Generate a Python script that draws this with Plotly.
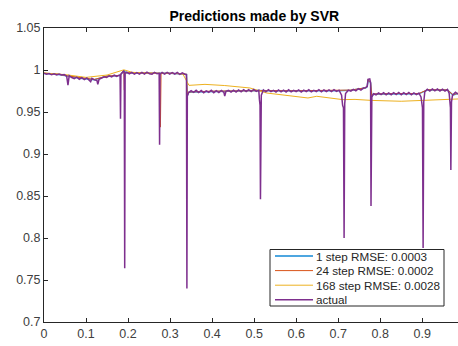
import plotly.graph_objects as go

# ---------------- data ----------------
x_actual = [
    0.000, 0.006, 0.012, 0.018, 0.024, 0.030, 0.036, 0.042, 0.048, 0.054, 0.057, 0.060,
    0.066, 0.072, 0.078, 0.084, 0.090, 0.096, 0.102, 0.108, 0.111, 0.114, 0.120, 0.126,
    0.128, 0.131, 0.137, 0.143, 0.149, 0.155, 0.161, 0.167, 0.173, 0.179, 0.181, 0.182,
    0.183, 0.187, 0.190, 0.191, 0.192, 0.193, 0.197, 0.203, 0.209, 0.215, 0.221, 0.227,
    0.233, 0.239, 0.245, 0.251, 0.257, 0.263, 0.269, 0.274, 0.275, 0.276, 0.281, 0.287,
    0.293, 0.299, 0.305, 0.311, 0.317, 0.323, 0.329, 0.335, 0.339, 0.340, 0.341, 0.344,
    0.350, 0.356, 0.362, 0.368, 0.374, 0.380, 0.386, 0.392, 0.398, 0.404, 0.410, 0.416,
    0.422, 0.428, 0.430, 0.433, 0.439, 0.445, 0.451, 0.457, 0.463, 0.469, 0.475, 0.481,
    0.487, 0.493, 0.499, 0.505, 0.511, 0.5125, 0.514, 0.515, 0.5158, 0.517, 0.522, 0.528,
    0.534, 0.540, 0.546, 0.552, 0.558, 0.564, 0.570, 0.576, 0.582, 0.588, 0.594, 0.600,
    0.606, 0.612, 0.618, 0.624, 0.630, 0.636, 0.642, 0.648, 0.654, 0.660, 0.666, 0.672,
    0.678, 0.684, 0.690, 0.696, 0.702, 0.708, 0.7105, 0.7125, 0.714, 0.7155, 0.7175, 0.724,
    0.730, 0.736, 0.742, 0.748, 0.754, 0.760, 0.765, 0.769, 0.771, 0.775, 0.777, 0.778,
    0.780, 0.784, 0.790, 0.796, 0.802, 0.808, 0.814, 0.820, 0.826, 0.832, 0.838, 0.844,
    0.850, 0.856, 0.862, 0.868, 0.874, 0.880, 0.886, 0.892, 0.897, 0.899, 0.9005, 0.902,
    0.9035, 0.906, 0.912, 0.918, 0.924, 0.930, 0.936, 0.942, 0.948, 0.954, 0.960, 0.964,
    0.9655, 0.967, 0.968, 0.9695, 0.972, 0.979, 0.985,
]
y_actual = [
    0.9962, 0.9950, 0.9958, 0.9945, 0.9955, 0.9942, 0.9952, 0.9940, 0.9945, 0.9925, 0.9820, 0.9932,
    0.9910, 0.9898, 0.9915, 0.9890, 0.9908, 0.9885, 0.9905, 0.9880, 0.9860, 0.9900, 0.9882, 0.9875,
    0.9830, 0.9890, 0.9900, 0.9918, 0.9910, 0.9930, 0.9918, 0.9938, 0.9925, 0.9940, 0.9930, 0.9420,
    0.9950, 0.9978, 0.9992, 0.9960, 0.7640, 0.9960, 0.9975, 0.9955, 0.9972, 0.9952, 0.9970, 0.9950,
    0.9972, 0.9952, 0.9975, 0.9955, 0.9950, 0.9972, 0.9955, 0.9960, 0.9110, 0.9950, 0.9970, 0.9952,
    0.9972, 0.9950, 0.9968, 0.9952, 0.9970, 0.9948, 0.9965, 0.9950, 0.9945, 0.7400, 0.9690, 0.9730,
    0.9755, 0.9735, 0.9758, 0.9732, 0.9755, 0.9730, 0.9752, 0.9735, 0.9758, 0.9730, 0.9754, 0.9732,
    0.9756, 0.9734, 0.9690, 0.9745, 0.9758, 0.9736, 0.9760, 0.9738, 0.9762, 0.9740, 0.9765, 0.9742,
    0.9766, 0.9744, 0.9768, 0.9746, 0.9760, 0.9650, 0.9580, 0.8460, 0.9600, 0.9700, 0.9762, 0.9740,
    0.9765, 0.9742, 0.9758, 0.9738, 0.9762, 0.9740, 0.9760, 0.9738, 0.9764, 0.9740, 0.9758, 0.9742,
    0.9762, 0.9738, 0.9760, 0.9742, 0.9764, 0.9740, 0.9758, 0.9742, 0.9765, 0.9740, 0.9762, 0.9744,
    0.9764, 0.9742, 0.9765, 0.9745, 0.9760, 0.9700, 0.9580, 0.9550, 0.8000, 0.9600, 0.9720, 0.9760,
    0.9748, 0.9770, 0.9752, 0.9778, 0.9760, 0.9785, 0.9790, 0.9805, 0.9890, 0.9895, 0.9850, 0.8380,
    0.9680, 0.9718, 0.9705, 0.9728, 0.9708, 0.9730, 0.9705, 0.9728, 0.9706, 0.9730, 0.9708, 0.9732,
    0.9706, 0.9730, 0.9708, 0.9732, 0.9705, 0.9728, 0.9706, 0.9725, 0.9680, 0.9580, 0.9550, 0.7880,
    0.9620, 0.9740, 0.9772, 0.9750, 0.9775, 0.9752, 0.9774, 0.9750, 0.9772, 0.9748, 0.9770, 0.9720,
    0.9600, 0.9550, 0.8810, 0.9620, 0.9700, 0.9735, 0.9712,
]

x_1step = [
    0.000, 0.030, 0.060, 0.090, 0.120, 0.150, 0.180, 0.187, 0.190, 0.197, 0.250, 0.300,
    0.339, 0.341, 0.344, 0.400, 0.460, 0.505, 0.530, 0.600, 0.700, 0.730, 0.765, 0.769,
    0.771, 0.777, 0.780, 0.784, 0.840, 0.892, 0.912, 0.960, 0.973, 0.985,
]
y_1step = [
    0.9958, 0.9948, 0.9925, 0.9900, 0.9885, 0.9925, 0.9933, 0.9973, 0.9988, 0.9965, 0.9962, 0.9960,
    0.9948, 0.9695, 0.9735, 0.9745, 0.9750, 0.9755, 0.9752, 0.9750, 0.9752, 0.9758, 0.9785, 0.9800,
    0.9883, 0.9848, 0.9682, 0.9712, 0.9718, 0.9716, 0.9762, 0.9761, 0.9702, 0.9722,
]

x_24step = [
    0.000, 0.030, 0.060, 0.090, 0.120, 0.150, 0.180, 0.187, 0.190, 0.1912, 0.1918, 0.197,
    0.250, 0.2755, 0.2770, 0.2785, 0.300, 0.339, 0.341, 0.344, 0.400, 0.460, 0.505, 0.530,
    0.600, 0.700, 0.730, 0.765, 0.769, 0.771, 0.777, 0.780, 0.784, 0.840, 0.892, 0.912,
    0.960, 0.973, 0.985,
]
y_24step = [
    0.9962, 0.9952, 0.9928, 0.9905, 0.9888, 0.9928, 0.9936, 0.9976, 0.9992, 0.9760, 0.9962, 0.9968,
    0.9965, 0.9962, 0.9320, 0.9960, 0.9963, 0.9950, 0.9698, 0.9738, 0.9748, 0.9753, 0.9758, 0.9755,
    0.9753, 0.9755, 0.9761, 0.9788, 0.9803, 0.9886, 0.9850, 0.9685, 0.9715, 0.9720, 0.9719, 0.9765,
    0.9763, 0.9705, 0.9724,
]

x_168step = [
    0.000, 0.050, 0.100, 0.150, 0.190, 0.210, 0.250, 0.330, 0.345, 0.383, 0.430, 0.490,
    0.530, 0.580, 0.628, 0.649, 0.690, 0.711, 0.740, 0.780, 0.850, 0.900, 0.950, 0.985,
]
y_168step = [
    0.9965, 0.9945, 0.9912, 0.9940, 1.0002, 0.9972, 0.9962, 0.9956, 0.9817, 0.9829, 0.9815, 0.9786,
    0.9726, 0.9695, 0.9667, 0.9687, 0.9655, 0.9647, 0.9650, 0.9638, 0.9628, 0.9640, 0.9652, 0.9655,
]

series_names = ["1 step RMSE: 0.0003", "24 step RMSE: 0.0002", "168 step RMSE: 0.0028", "actual"]
series_colors = ["#4DA6E0", "#D95319", "#EDB120", "#7E2F8E"]
x_ticks = [0, 0.1, 0.2, 0.3, 0.4, 0.5, 0.6, 0.7, 0.8, 0.9]
x_tick_labels = ["0", "0.1", "0.2", "0.3", "0.4", "0.5", "0.6", "0.7", "0.8", "0.9"]
y_ticks = [0.7, 0.75, 0.8, 0.85, 0.9, 0.95, 1.0, 1.05]
y_tick_labels = ["0.7", "0.75", "0.8", "0.85", "0.9", "0.95", "1", "1.05"]

# ---------------- figure ----------------
FONT = "Liberation Sans, Arial, sans-serif"
AX = "#262626"
W, H = 458, 346
ML, MR, MT, MB = 44, 0, 28, 24
PW, PH = W - ML - MR, H - MT - MB


def px_x(px):
    return (px - ML) / PW


def px_y(py):
    return (H - MB - py) / PH


fig = go.Figure()
series = [(x_1step, y_1step, 1.5), (x_24step, y_24step, 1.0),
          (x_168step, y_168step, 1.0), (x_actual, y_actual, 1.5)]
for (xs, ys, w), name, col in zip(series, series_names, series_colors):
    fig.add_trace(go.Scatter(x=xs, y=ys, mode="lines", name=name,
                             line=dict(color=col, width=w), showlegend=False))

# legend box (MATLAB-style compact legend)
shapes = [dict(type="rect", xref="paper", yref="paper",
               x0=px_x(270), x1=px_x(444), y0=px_y(306), y1=px_y(249.5),
               line=dict(color=AX, width=1), fillcolor="white", layer="above")]
annotations = []
row_y = [256, 270.6, 285.2, 299.8]
leg_w = [2, 1, 1, 1.6]
for i, (name, col) in enumerate(zip(series_names, series_colors)):
    shapes.append(dict(type="line", xref="paper", yref="paper",
                       x0=px_x(275), x1=px_x(313), y0=px_y(row_y[i]), y1=px_y(row_y[i]),
                       line=dict(color=col, width=leg_w[i]), layer="above"))
    annotations.append(dict(text=name, xref="paper", yref="paper",
                            x=px_x(314), y=px_y(row_y[i]), xanchor="left", yanchor="middle",
                            showarrow=False, font=dict(family=FONT, size=11.7, color="#262626")))

fig.update_layout(
    width=W, height=H,
    margin=dict(l=ML, r=MR, t=MT, b=MB),
    paper_bgcolor="white", plot_bgcolor="white",
    font=dict(family=FONT, size=12, color="#404040"),
    title=dict(text="<b>Predictions made by SVR</b>", x=0.508, xref="paper", xanchor="center",
               y=1 - 16.5 / H, yref="container", yanchor="middle",
               font=dict(family=FONT, size=14, color="#000000")),
    showlegend=False,
    shapes=shapes,
    annotations=annotations,
)
fig.update_xaxes(range=[0, 0.985], tickvals=x_ticks, ticktext=x_tick_labels,
                 ticks="inside", ticklen=4, tickcolor=AX, showline=True, linecolor=AX,
                 linewidth=1, mirror="ticks", showgrid=False, zeroline=False,
                 tickfont=dict(size=12.5, color="#404040"))
fig.update_yaxes(range=[0.7, 1.05], tickvals=y_ticks, ticktext=y_tick_labels,
                 ticks="inside", ticklen=4, tickcolor=AX, showline=True, linecolor=AX,
                 linewidth=1, mirror=False, showgrid=False, zeroline=False,
                 tickfont=dict(size=12.5, color="#404040"))

fig.write_html("out.html")
